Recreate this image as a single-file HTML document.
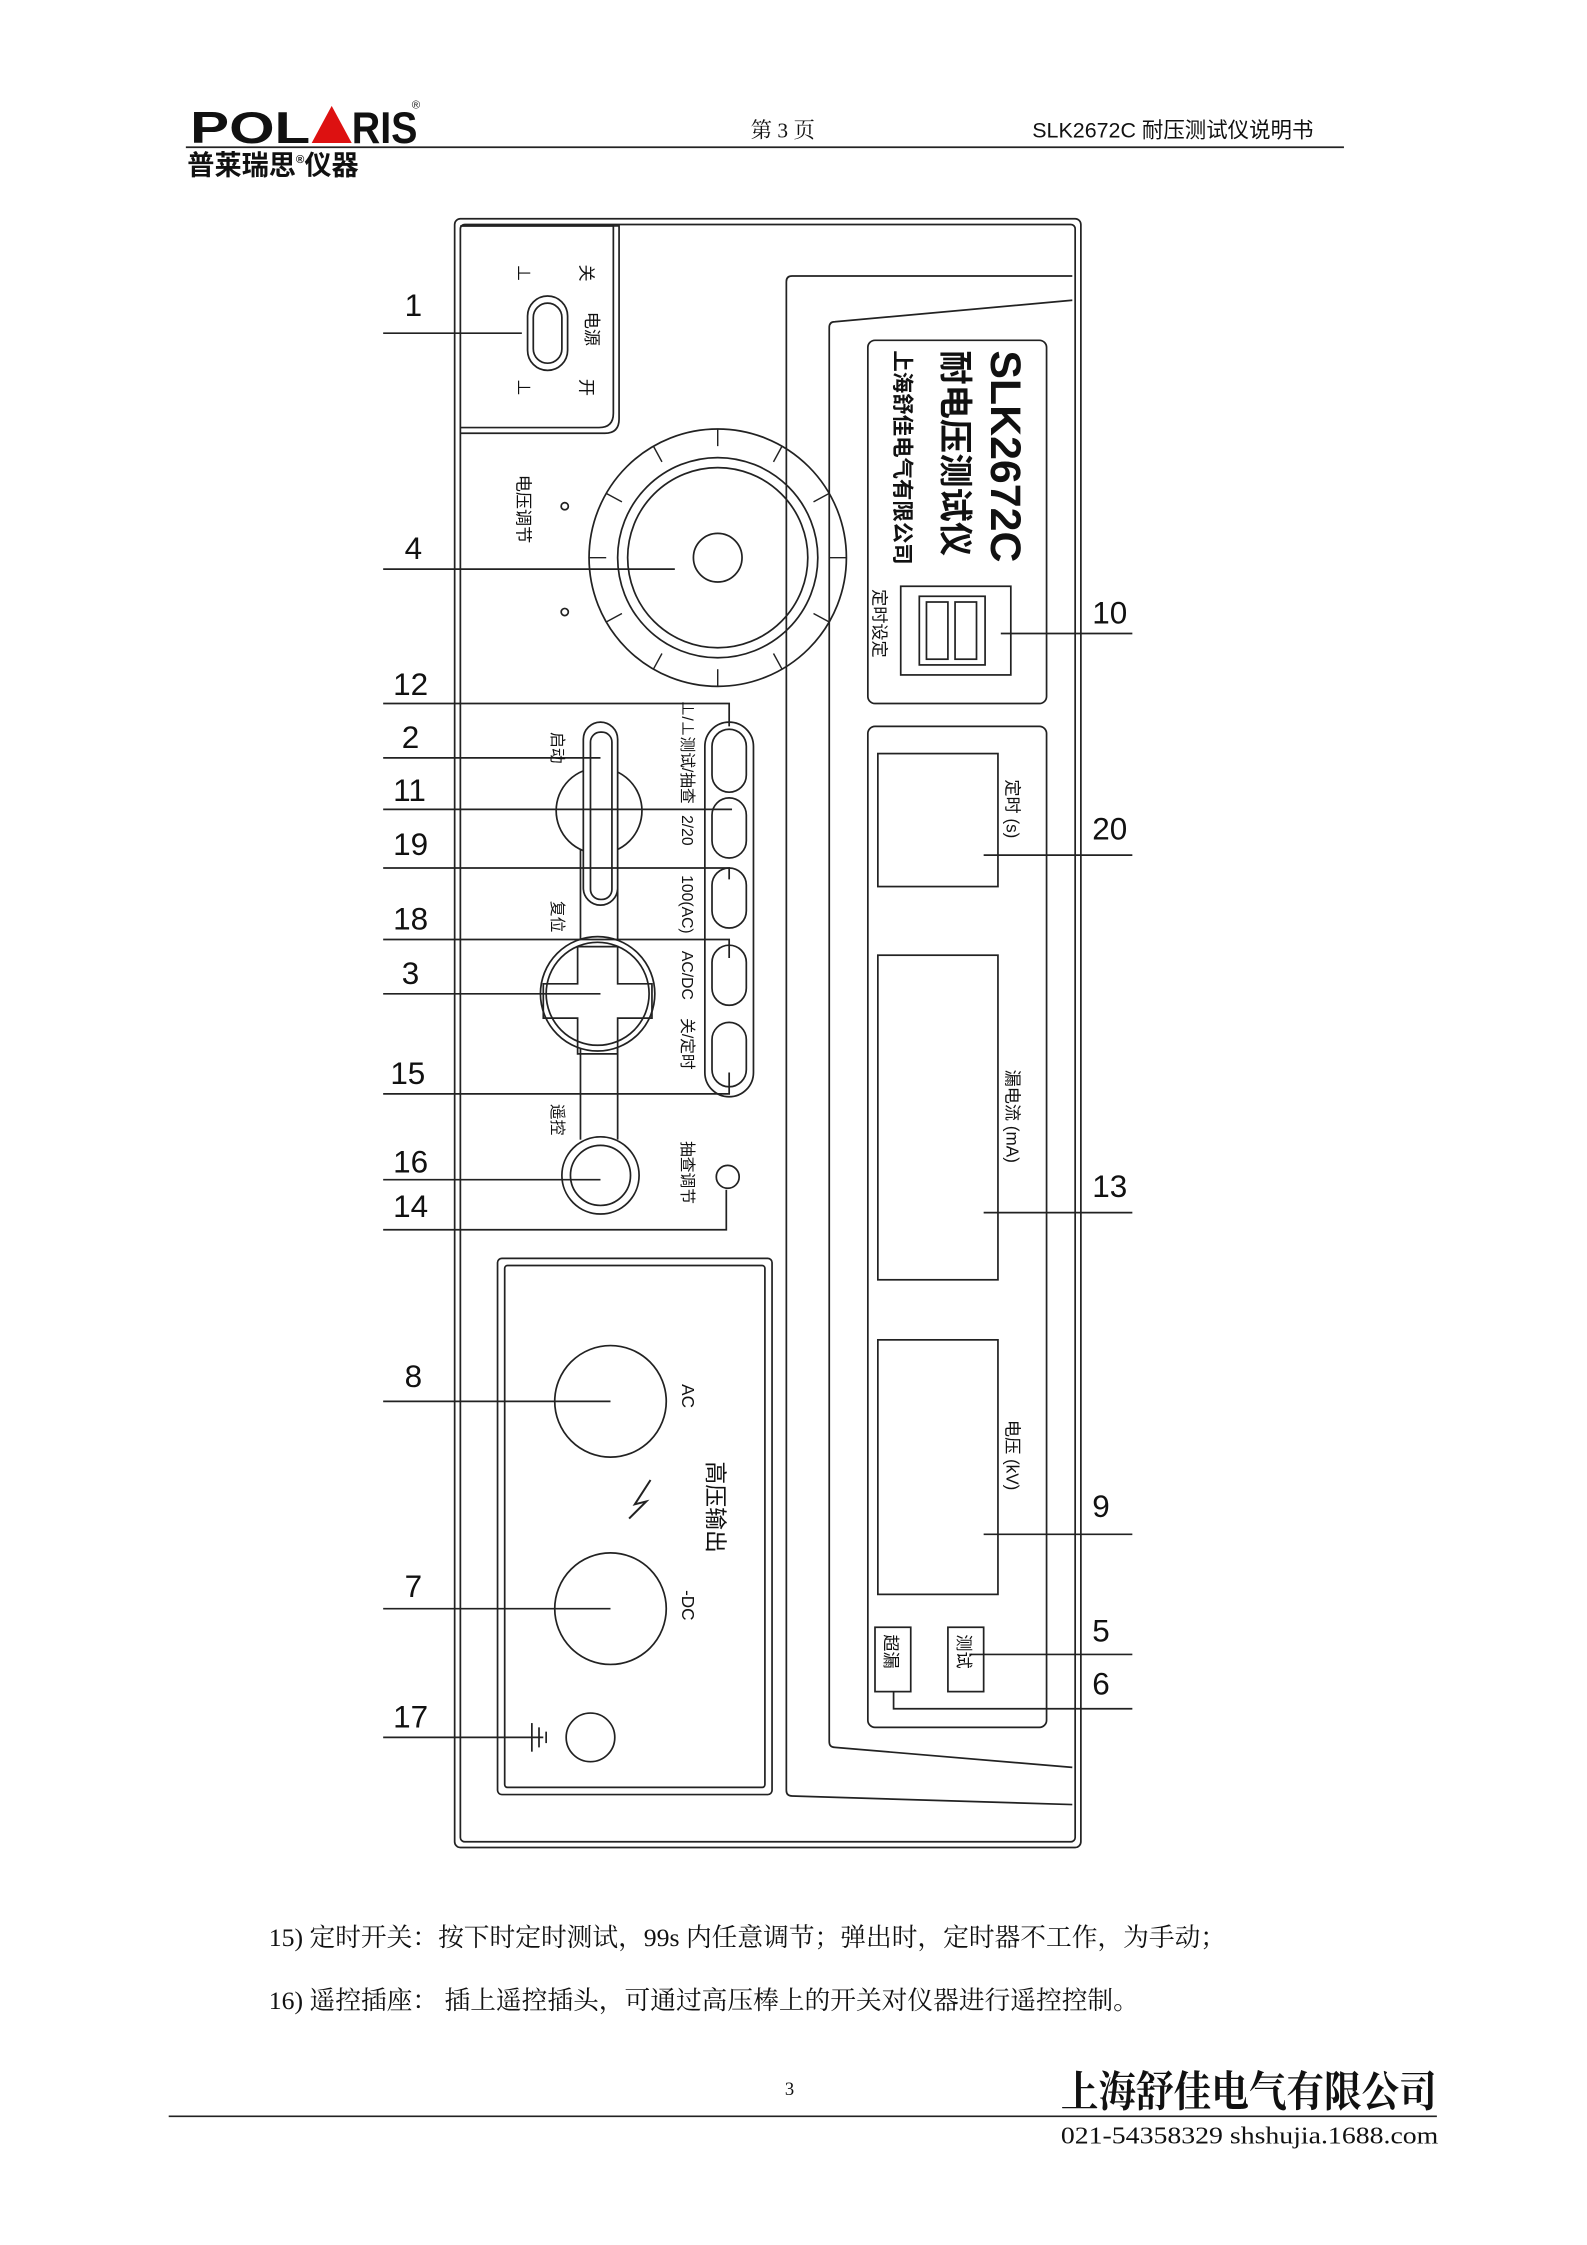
<!DOCTYPE html>
<html><head><meta charset="utf-8"><style>
html,body{margin:0;padding:0;background:#fff}
svg{display:block}
text{font-family:"Liberation Sans","Noto Sans CJK SC",sans-serif;fill:#111}
.s{font-family:"Liberation Serif","Noto Serif CJK SC",serif}
</style></head><body>
<svg width="1587" height="2245" viewBox="0 0 1110 1570" preserveAspectRatio="none" xmlns="http://www.w3.org/2000/svg">
<g fill="none" stroke="#222" stroke-width="1.2">
<line x1="130" y1="103" x2="940" y2="103"/>
<rect x="318" y="153" width="438" height="1139" rx="4"/>
<rect x="322" y="157" width="430" height="1131" rx="3"/>
<path d="M322 158 H433 V293 Q433 303 423 303 H322"/>
<path d="M322 158 H429 V289 Q429 299 419 299 H322"/>
<rect x="369" y="207" width="28" height="52" rx="14"/>
<rect x="373" y="212" width="20" height="42" rx="10"/>
<path d="M750 193 H554 Q550 193 550 197 V1252 Q550 1256 554 1256 L750 1262"/>
<path d="M750 210 L584 225 Q580 225 580 229 V1218 Q580 1222 584 1222 L750 1236"/>
<rect x="607" y="238" width="125" height="254" rx="5"/>
<rect x="630" y="410" width="77" height="62"/>
<rect x="643" y="417" width="46" height="48"/>
<rect x="648" y="421" width="15" height="40"/>
<rect x="668" y="421" width="15" height="40"/>
<rect x="607" y="508" width="125" height="700" rx="5"/>
<rect x="614" y="527" width="84" height="93"/>
<rect x="614" y="668" width="84" height="227"/>
<rect x="614" y="937" width="84" height="178"/>
<rect x="612" y="1138" width="25" height="45"/>
<rect x="663" y="1138" width="25" height="45"/>
<line x1="700" y1="443" x2="792" y2="443"/>
<line x1="688" y1="598" x2="792" y2="598"/>
<line x1="688" y1="848" x2="792" y2="848"/>
<line x1="688" y1="1073" x2="792" y2="1073"/>
<line x1="678" y1="1157" x2="792" y2="1157"/>
<path d="M625 1183 V1195 H792"/>
<circle cx="502" cy="390" r="90"/>
<circle cx="502" cy="390" r="70"/>
<circle cx="502" cy="390" r="63"/>
<circle cx="502" cy="390" r="17"/>
<g stroke-width="1">
<line x1="502" y1="300" x2="502" y2="312"/><line x1="502" y1="468" x2="502" y2="480"/>
<line x1="412" y1="390" x2="424" y2="390"/><line x1="580" y1="390" x2="592" y2="390"/>
<line x1="547" y1="312" x2="541" y2="323"/><line x1="457" y1="312" x2="463" y2="323"/>
<line x1="547" y1="468" x2="541" y2="457"/><line x1="457" y1="468" x2="463" y2="457"/>
<line x1="580" y1="345" x2="569" y2="351"/><line x1="424" y1="345" x2="435" y2="351"/>
<line x1="580" y1="435" x2="569" y2="429"/><line x1="424" y1="435" x2="435" y2="429"/>
</g>
<circle cx="395" cy="354" r="2.5"/><circle cx="395" cy="428" r="2.5"/>
<!-- start/reset/remote column -->
<line x1="406" y1="590" x2="406" y2="657"/><line x1="432" y1="590" x2="432" y2="657"/>
<line x1="406" y1="733" x2="406" y2="797"/><line x1="432" y1="733" x2="432" y2="797"/>
<circle cx="419" cy="567" r="30" fill="#fff"/>
<rect x="408" y="505" width="24" height="128" rx="12" fill="#fff"/>
<rect x="413" y="512" width="15" height="117" rx="7"/>
<circle cx="418" cy="695" r="40" fill="#fff"/>
<circle cx="418" cy="695" r="36"/>
<path d="M404 662 H432 V688 H456 V712 H432 V737 H404 V712 H380 V688 H404 Z"/>
<circle cx="420" cy="822" r="27" fill="#fff"/>
<circle cx="420" cy="822" r="21"/>
<rect x="493" y="505" width="34" height="262" rx="17"/>
<rect x="498" y="510" width="24" height="44" rx="12"/>
<rect x="498" y="558" width="24" height="42" rx="12"/>
<rect x="498" y="607" width="24" height="42" rx="12"/>
<rect x="498" y="661" width="24" height="42" rx="12"/>
<rect x="498" y="715" width="24" height="45" rx="12"/>
<circle cx="509" cy="823" r="8"/>
<line x1="268" y1="233" x2="365" y2="233"/>
<line x1="268" y1="398" x2="472" y2="398"/>
<path d="M268 492 H510 V508"/>
<line x1="268" y1="530" x2="420" y2="530"/>
<line x1="268" y1="566" x2="512" y2="566"/>
<path d="M268 607 H510 V615"/>
<path d="M268 657 H510 V670"/>
<line x1="268" y1="695" x2="420" y2="695"/>
<path d="M268 765 H510 V750"/>
<line x1="268" y1="825" x2="420" y2="825"/>
<path d="M268 860 H508 V832"/>
<line x1="268" y1="980" x2="427" y2="980"/>
<line x1="268" y1="1125" x2="427" y2="1125"/>
<line x1="268" y1="1215" x2="380" y2="1215"/>
<rect x="348" y="880" width="192" height="375" rx="3"/>
<rect x="353" y="885" width="182" height="365" rx="2"/>
<circle cx="427" cy="980" r="39"/>
<circle cx="427" cy="1125" r="39"/>
<circle cx="413" cy="1215" r="17"/>
<line x1="372" y1="1205" x2="372" y2="1225"/><line x1="377" y1="1208" x2="377" y2="1222"/><line x1="382" y1="1211" x2="382" y2="1219"/>
<path d="M455 1035 L444 1052 L452 1050 L440 1062" stroke-width="1.4"/>
<line x1="118" y1="1480" x2="1005" y2="1480"/>
</g>
<polygon points="218,100 232,74 246,100" fill="#d11"/>
<text x="133" y="100" font-size="31" font-weight="bold" textLength="84" lengthAdjust="spacingAndGlyphs">POL</text>
<text x="246" y="100" font-size="31" font-weight="bold" textLength="46" lengthAdjust="spacingAndGlyphs">RIS</text>
<text x="288" y="76" font-size="8">®</text>
<text x="131" y="122" font-size="19" font-weight="bold">普莱瑞思<tspan font-size="8" dy="-8">®</tspan><tspan dy="8">仪器</tspan></text>
<text x="525" y="96" font-size="15" class="s">第 3 页</text>
<text x="722" y="96" font-size="15">SLK2672C 耐压测试仪说明书</text>
<g font-size="22">
<text x="283" y="221">1</text><text x="283" y="391">4</text><text x="275" y="486">12</text>
<text x="281" y="523">2</text><text x="275" y="560">11</text><text x="275" y="598">19</text>
<text x="275" y="650">18</text><text x="281" y="688">3</text><text x="273" y="758">15</text>
<text x="275" y="820">16</text><text x="275" y="851">14</text><text x="283" y="970">8</text>
<text x="283" y="1117">7</text><text x="275" y="1208">17</text>
<text x="764" y="436">10</text><text x="764" y="587">20</text><text x="764" y="837">13</text>
<text x="764" y="1061">9</text><text x="764" y="1148">5</text><text x="764" y="1185">6</text>
</g>
<g font-size="12">
<text transform="translate(406,185) rotate(90)">关</text>
<text transform="translate(406,265) rotate(90)">开</text>
<text transform="translate(362,185) rotate(90)">⊥</text>
<text transform="translate(362,265) rotate(90)">⊥</text>
<text transform="translate(410,218) rotate(90)">电源</text>
<text transform="translate(362,332) rotate(90)">电压调节</text>
<text transform="translate(386,512) rotate(90)" font-size="11">启动</text>
<text transform="translate(386,630) rotate(90)" font-size="11">复位</text>
<text transform="translate(386,772) rotate(90)" font-size="11">遥控</text>
<text transform="translate(477,490) rotate(90)" font-size="11">⊥/⊥测试/抽查</text>
<text transform="translate(477,570) rotate(90)" font-size="11">2/20</text>
<text transform="translate(477,612) rotate(90)" font-size="11">100(AC)</text>
<text transform="translate(477,665) rotate(90)" font-size="11">AC/DC</text>
<text transform="translate(477,712) rotate(90)" font-size="11">关/定时</text>
<text transform="translate(477,798) rotate(90)" font-size="11">抽查调节</text>
<text transform="translate(477,968) rotate(90)">AC</text>
<text transform="translate(477,1112) rotate(90)">-DC</text>
<text transform="translate(495,1022) rotate(90)" font-size="16">高压输出</text>
<text transform="translate(611,412) rotate(90)">定时设定</text>
<text transform="translate(704,545) rotate(90)">定时 (s)</text>
<text transform="translate(704,748) rotate(90)">漏电流 (mA)</text>
<text transform="translate(704,993) rotate(90)">电压 (kV)</text>
<text transform="translate(619,1143) rotate(90)">超漏</text>
<text transform="translate(670,1143) rotate(90)">测试</text>
<text transform="translate(693,245) rotate(90)" font-size="30" font-weight="bold">SLK2672C</text>
<text transform="translate(660,245) rotate(90)" font-size="24" font-weight="bold">耐电压测试仪</text>
<text transform="translate(626,245) rotate(90)" font-size="15" font-weight="bold">上海舒佳电气有限公司</text>
</g>
<text x="188" y="1361" font-size="18" class="s">15)  定时开关：按下时定时测试，99s 内任意调节；弹出时，定时器不工作，为手动；</text>
<text x="188" y="1405" font-size="18" class="s">16)  遥控插座：   插上遥控插头，可通过高压棒上的开关对仪器进行遥控控制。</text>
<text x="549" y="1465" font-size="13" class="s">3</text>
<text x="742" y="1473" font-size="30" font-weight="bold" textLength="263" lengthAdjust="spacingAndGlyphs" style="font-family:'Noto Serif CJK SC',serif">上海舒佳电气有限公司</text>
<text x="742" y="1499" font-size="17" class="s" textLength="264" lengthAdjust="spacingAndGlyphs">021-54358329 shshujia.1688.com</text>
</svg>
</body></html>
